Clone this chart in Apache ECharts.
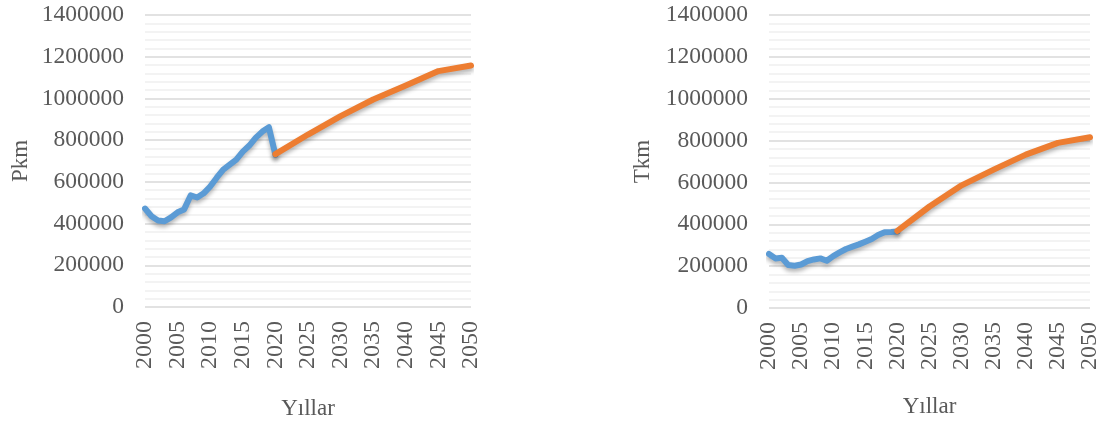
<!DOCTYPE html>
<html>
<head>
<meta charset="utf-8">
<script src="https://cdn.jsdelivr.net/npm/echarts@6/dist/echarts.min.js"></script>
<style>
html,body{margin:0;padding:0;background:#fff;}
#c{width:1102px;height:425px;}
</style>
</head>
<body>
<div id="c"></div>
<script>
// Left chart: passenger-km (Pkm)
const pkmHistYears = [2000,2001,2002,2003,2004,2005,2006,2007,2008,2009,2010,2011,2012,2013,2014,2015,2016,2017,2018,2019,2020];
const pkmHist = [472000,435000,415000,411000,430000,454000,468000,535000,525000,545000,578000,620000,659000,683000,707000,745000,774000,812000,841000,862000,730000];
const pkmProjYears = [2020,2025,2030,2035,2040,2045,2050];
const pkmProj = [733000,827000,915000,995000,1062000,1131000,1158000];

// Right chart: tonne-km (Tkm)
const tkmHistYears = [2000,2001,2002,2003,2004,2005,2006,2007,2008,2009,2010,2011,2012,2013,2014,2015,2016,2017,2018,2019,2020];
const tkmHist = [258000,237000,240000,205000,202000,208000,224000,232000,237000,226000,248000,266000,282000,293000,304000,317000,330000,349000,362000,363000,365000];
const tkmProjYears = [2020,2025,2030,2035,2040,2045,2050];
const tkmProj = [368000,485000,586000,661000,733000,789000,816000];

const yTitles = ['Pkm','Tkm'];
const xTitle = 'Yıllar';

const FONT = '"Liberation Serif", "Times New Roman", serif';
const TXT = '#595959';
const BLUE = '#5B9BD5';
const ORANGE = '#ED7D31';

function pairs(xs, ys){ return xs.map((x,i)=>[x, ys[i]]); }

const grids = [
  {left:145, right:631, top:15, bottom:117},
  {left:769, right:9, top:15, bottom:117}
];
const yNameGaps = [113, 115];
const xNameGaps = [90, 87];

function xAxis(i){
  return {
    type:'value', gridIndex:i, min:2000, max:2050, interval:5,
    axisLine:{show:false}, axisTick:{show:false}, splitLine:{show:false},
    axisLabel:{rotate:90, fontFamily:FONT, fontSize:24, color:TXT, margin:14,
      formatter:v=>String(v)},
    name:xTitle, nameLocation:'middle', nameGap:xNameGaps[i],
    nameTextStyle:{fontFamily:FONT, fontSize:23, color:TXT}
  };
}
function yAxis(i){
  return {
    type:'value', gridIndex:i, min:0, max:1400000, interval:200000,
    axisLine:{show:false}, axisTick:{show:false},
    axisLabel:{fontFamily:FONT, fontSize:23.5, color:TXT, margin:21,
      formatter:v=>String(v)},
    splitLine:{lineStyle:{color:'#d9d9d9', width:1.5}},
    minorTick:{show:false, splitNumber:5},
    minorSplitLine:{show:true, lineStyle:{color:'#efefef', width:1.5}},
    name:yTitles[i], nameLocation:'middle', nameGap:yNameGaps[i], nameRotate:90,
    nameTextStyle:{fontFamily:FONT, fontSize:23, color:TXT}
  };
}
function line(i, data, color){
  return {
    type:'line', xAxisIndex:i, yAxisIndex:i, data:data, symbol:'none',
    lineStyle:{color:color, width:6, cap:'round', join:'round',
      shadowColor:'rgba(0,0,0,0.3)', shadowBlur:4, shadowOffsetY:3},
    z:3
  };
}

const chart = echarts.init(document.getElementById('c'), null, {renderer:'canvas'});
chart.setOption({
  animation:false,
  grid:grids,
  xAxis:[xAxis(0), xAxis(1)],
  yAxis:[yAxis(0), yAxis(1)],
  series:[
    line(0, pairs(pkmHistYears, pkmHist), BLUE),
    line(0, pairs(pkmProjYears, pkmProj), ORANGE),
    line(1, pairs(tkmHistYears, tkmHist), BLUE),
    line(1, pairs(tkmProjYears, tkmProj), ORANGE)
  ]
});
</script>
</body>
</html>
